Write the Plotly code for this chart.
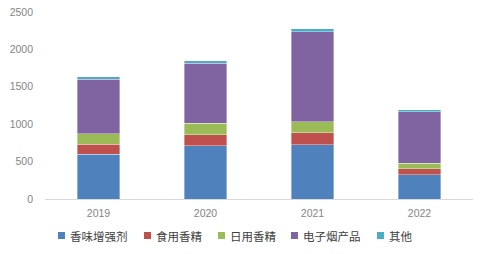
import plotly.graph_objects as go

years = ["2019", "2020", "2021", "2022"]
series_names = ["香味增强剂", "食用香精", "日用香精", "电子烟产品", "其他"]
flavor_enhancer = [600, 713, 722, 321]
food_flavor = [135, 143, 165, 85]
daily_flavor = [135, 156, 143, 72]
ecig_products = [730, 802, 1207, 690]
others = [36, 31, 36, 23]

colors = ["#4F81BD", "#C0504D", "#9BBB59", "#8064A2", "#4BACC6"]
values = [flavor_enhancer, food_flavor, daily_flavor, ecig_products, others]

# plot area geometry (pixels)
W, H = 489, 254
L, R, T, B = 45, 16, 12, 55
pw, ph = W - L - R, H - T - B

fig = go.Figure()
for name, vals, col in zip(series_names, values, colors):
    fig.add_trace(go.Bar(
        x=years, y=vals, name=name,
        marker=dict(color=col, line=dict(color="rgba(255,255,255,0.6)", width=0.6)),
    ))

# manual legend (marker squares + labels) placed below the plot
legend_x_px = [58, 144, 218, 291, 377]
legend_y_px = 235.5
for name, col, xp in zip(series_names, colors, legend_x_px):
    x0 = (xp - L) / pw
    x1 = (xp + 7 - L) / pw
    yc = (T + ph - legend_y_px) / ph
    fig.add_shape(type="rect", xref="paper", yref="paper",
                  x0=x0, x1=x1, y0=yc - 3.5 / ph, y1=yc + 3.5 / ph,
                  fillcolor=col, line=dict(width=0))
    fig.add_annotation(xref="paper", yref="paper", x=(xp + 10 - L) / pw, y=yc,
                       xanchor="left", yanchor="middle", showarrow=False,
                       text=name, font=dict(family="Noto Sans CJK SC", size=11.5, color="#404040"))

fig.update_layout(
    barmode="stack",
    bargap=0.6,
    width=W, height=H,
    margin=dict(l=L, r=R, t=T, b=B, autoexpand=False),
    paper_bgcolor="white", plot_bgcolor="white",
    font=dict(family="Liberation Sans, Arial, sans-serif", size=10.5, color="#858585"),
    showlegend=False,
)
fig.update_xaxes(
    showgrid=False, showline=True, linecolor="#D9D9D9", linewidth=1,
    ticks="", tickfont=dict(size=10.5, color="#858585"), automargin=False,
    ticklabelstandoff=4,
)
fig.update_yaxes(
    range=[0, 2500], dtick=500, showgrid=False, zeroline=False, showline=False,
    ticks="", tickfont=dict(size=10.5, color="#858585"), ticklabelstandoff=11,
    automargin=False,
)

fig.write_html("out.html")
